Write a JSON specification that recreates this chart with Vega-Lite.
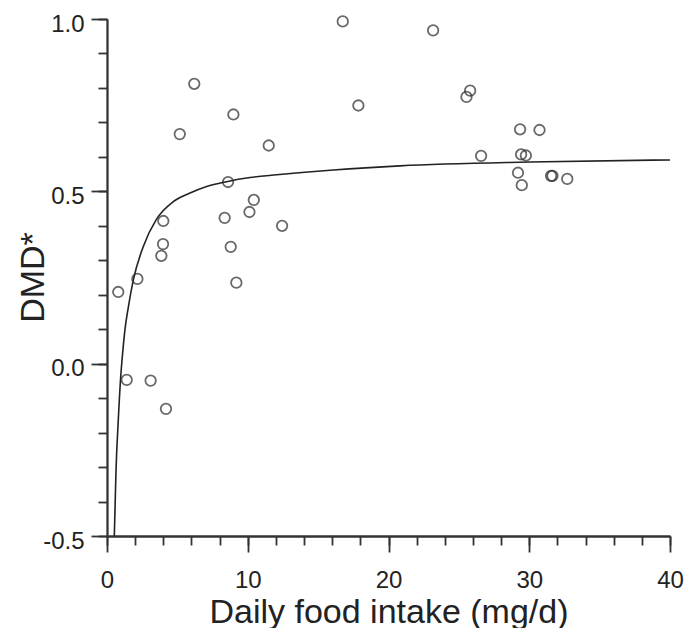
{
  "$schema": "https://vega.github.io/schema/vega-lite/v6.json",
  "width": 563,
  "height": 517,
  "autosize": {"type": "none"},
  "padding": {"left": 107, "top": 19, "right": 18, "bottom": 92},
  "config": {
    "view": {"stroke": null},
    "axis": {
      "grid": false,
      "labelFlush": false,
      "domainColor": "#333333",
      "tickColor": "#333333",
      "domainWidth": 1.8,
      "tickWidth": 1.8,
      "labelFont": "Liberation Sans",
      "labelFontSize": 24,
      "labelColor": "#222222",
      "titleFont": "Liberation Sans",
      "titleFontSize": 34,
      "titleFontWeight": "normal",
      "titleColor": "#222222"
    }
  },
  "datasets": {
    "fit": [
      {"intake": 0.52, "dmd": -0.5},
      {"intake": 0.64, "dmd": -0.31},
      {"intake": 0.8, "dmd": -0.165},
      {"intake": 0.97, "dmd": -0.04},
      {"intake": 1.11, "dmd": 0.03},
      {"intake": 1.28, "dmd": 0.1},
      {"intake": 1.52, "dmd": 0.165},
      {"intake": 1.87, "dmd": 0.243},
      {"intake": 2.58, "dmd": 0.34},
      {"intake": 3.53, "dmd": 0.42},
      {"intake": 4.71, "dmd": 0.47},
      {"intake": 5.9, "dmd": 0.495},
      {"intake": 7.08, "dmd": 0.514},
      {"intake": 8.5, "dmd": 0.528},
      {"intake": 10.16, "dmd": 0.54},
      {"intake": 12.06, "dmd": 0.548},
      {"intake": 16.08, "dmd": 0.562},
      {"intake": 20.82, "dmd": 0.574},
      {"intake": 30, "dmd": 0.585},
      {"intake": 40, "dmd": 0.591}
    ],
    "pts": [
      {"intake": 16.75, "dmd": 0.993},
      {"intake": 6.2, "dmd": 0.812},
      {"intake": 8.98, "dmd": 0.723},
      {"intake": 5.17, "dmd": 0.666},
      {"intake": 11.49, "dmd": 0.633},
      {"intake": 8.6, "dmd": 0.527},
      {"intake": 10.43, "dmd": 0.475},
      {"intake": 10.12, "dmd": 0.44},
      {"intake": 8.36, "dmd": 0.423},
      {"intake": 4.0, "dmd": 0.414},
      {"intake": 12.44, "dmd": 0.4},
      {"intake": 3.98, "dmd": 0.347},
      {"intake": 8.79, "dmd": 0.339},
      {"intake": 3.86, "dmd": 0.313},
      {"intake": 2.16, "dmd": 0.246},
      {"intake": 9.19, "dmd": 0.235},
      {"intake": 0.8, "dmd": 0.208},
      {"intake": 1.4, "dmd": -0.047},
      {"intake": 3.1, "dmd": -0.049},
      {"intake": 4.19, "dmd": -0.131},
      {"intake": 23.17, "dmd": 0.967},
      {"intake": 17.86, "dmd": 0.749},
      {"intake": 25.8, "dmd": 0.792},
      {"intake": 25.54, "dmd": 0.774},
      {"intake": 29.35, "dmd": 0.68},
      {"intake": 30.73, "dmd": 0.678},
      {"intake": 26.58, "dmd": 0.603},
      {"intake": 29.42, "dmd": 0.607},
      {"intake": 29.76, "dmd": 0.604},
      {"intake": 29.2, "dmd": 0.554},
      {"intake": 31.55, "dmd": 0.545},
      {"intake": 31.65, "dmd": 0.545},
      {"intake": 32.7, "dmd": 0.536},
      {"intake": 29.47, "dmd": 0.518}
    ]
  },
  "layer": [
    {
      "data": {"name": "fit"},
      "mark": {"type": "line", "interpolate": "monotone", "color": "#222222", "strokeWidth": 1.6},
      "encoding": {
        "x": {
          "field": "intake", "type": "quantitative",
          "scale": {"domain": [0, 40], "nice": false, "zero": false},
          "axis": {"orient": "bottom", "values": [0,2,4,6,8,10,12,14,16,18,20,22,24,26,28,30,32,34,36,38,40], "tickSize": 9, "labels": false, "title": null}
        },
        "y": {
          "field": "dmd", "type": "quantitative",
          "scale": {"domain": [-0.5, 1.0], "nice": false, "zero": false},
          "axis": {"orient": "left", "values": [-0.5,-0.4,-0.3,-0.2,-0.1,0,0.1,0.2,0.3,0.4,0.5,0.6,0.7,0.8,0.9,1.0], "tickSize": 9, "labels": false, "title": null}
        }
      }
    },
    {
      "data": {"name": "pts"},
      "mark": {"type": "point", "shape": "circle", "filled": false, "size": 110, "stroke": "#2a2a2a", "strokeWidth": 1.8},
      "encoding": {
        "x": {
          "field": "intake", "type": "quantitative",
          "scale": {"domain": [0, 40], "nice": false, "zero": false},
          "axis": {"orient": "bottom", "values": [0,10,20,30,40], "tickSize": 16, "labelPadding": 16, "format": "d", "title": "Daily food intake (mg/d)", "titleY": 86, "titleBaseline": "alphabetic"}
        },
        "y": {
          "field": "dmd", "type": "quantitative",
          "scale": {"domain": [-0.5, 1.0], "nice": false, "zero": false},
          "axis": {"orient": "left", "values": [-0.5, 0, 0.5, 1.0], "tickSize": 16, "labelPadding": 7, "labelOffset": 5, "labelExpr": "datum.value < 0 ? '-' + format(-datum.value, '.1f') : format(datum.value, '.1f')", "title": "DMD*", "titleX": -64, "titleY": 258, "titleAngle": -90, "titleAlign": "center", "titleBaseline": "alphabetic"}
        }
      }
    }
  ],
  "resolve": {
    "scale": {"x": "independent", "y": "independent"},
    "axis": {"x": "independent", "y": "independent"}
  }
}
